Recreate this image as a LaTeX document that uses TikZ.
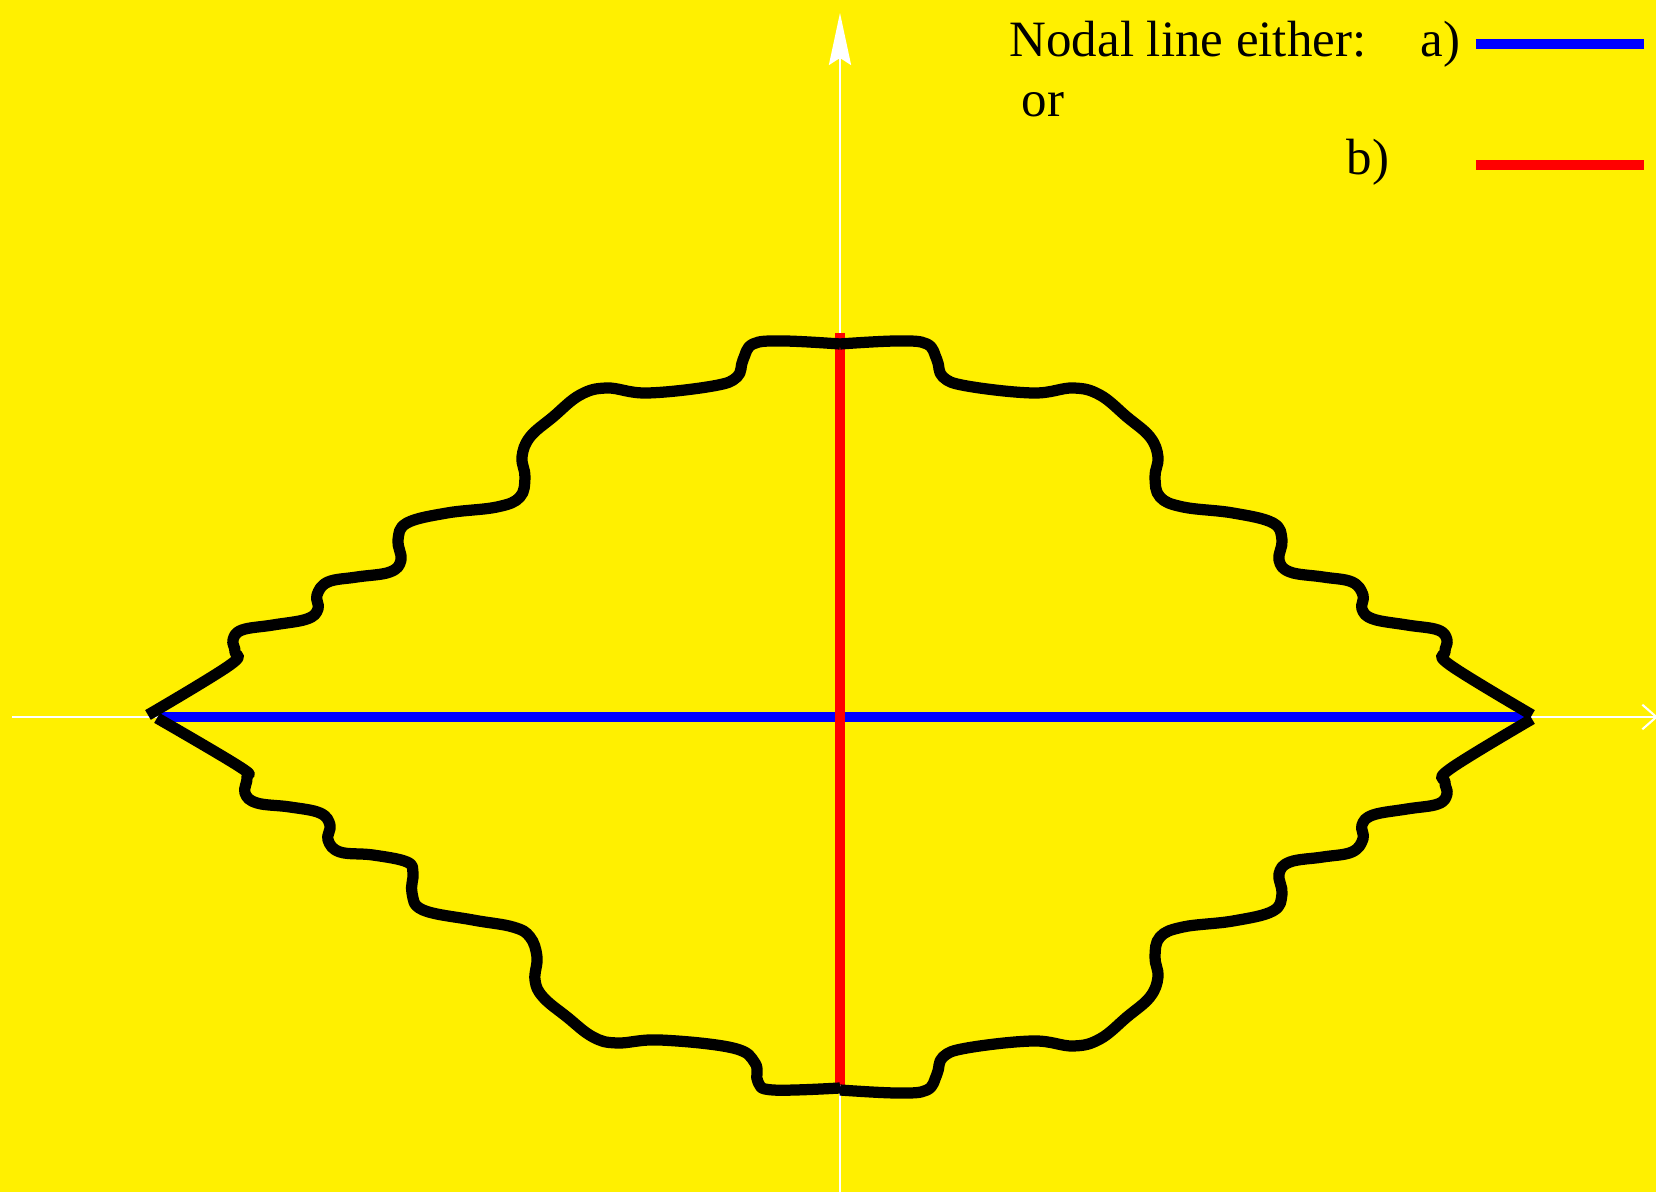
\documentclass[tikz,border=0pt]{standalone}
\usepackage{fontspec}
\setmainfont{Liberation Serif}
\usetikzlibrary{arrows.meta}
\definecolor{bgyellow}{RGB}{255,240,0}
\definecolor{nodalblue}{RGB}{0,0,255}
\definecolor{nodalred}{RGB}{255,0,0}

\begin{document}
\begin{tikzpicture}[
  curve/.style={black,line width=3.2pt,line join=round},
  axis/.style={white,line width=0.6pt},
  nodal/.style={line width=2.65pt},
  legendtext/.style={inner sep=0pt,anchor=base west,font=\fontsize{14.5}{17}\selectfont}]
  \fill[bgyellow] (-8.40,-4.75) rectangle (8.16,7.17);
  \useasboundingbox (-8.40,-4.75) rectangle (8.16,7.17);
  % axes
  \draw[axis,-{Straight Barb[length=4pt,width=7pt]}] (-8.28,0) -- (8.18,0);
  \draw[axis,-{Stealth[length=14.8pt,width=6.3pt,inset=2pt]}] (0,-4.75) -- (0,7.04);
  % legend
  \node[legendtext] (either) at (1.69,6.60) {Nodal line either:};
  \node[legendtext] (opta) at (5.80,6.60) {a)};
  \node[legendtext] (or) at (1.81,6.00) {or};
  \node[legendtext] (optb) at (5.06,5.42) {b)};
  \draw[nodalblue,line width=3.1pt] (6.36,6.73) -- (8.04,6.73);
  \draw[nodalred,line width=3.1pt] (6.36,5.52) -- (8.04,5.52);
  % the two nodal lines
  \draw[nodalblue,nodal] (-6.80,0) -- (6.87,0);
  \draw[nodalred,nodal] (0,3.84) -- (0,-3.68);
  % wavy boundary, one quarter at a time
  \foreach \sx/\sy in {1/1,-1/1,-1/-1}
    \draw[curve,xscale=\sx,yscale=\sy] plot[smooth,tension=0.65] coordinates {
      (-6.92,0.02) (-6.10,0.52) (-6.05,0.65) (-6.07,0.77) (-5.98,0.87)
      (-5.67,0.92) (-5.33,0.98) (-5.22,1.08) (-5.23,1.22) (-5.12,1.35)
      (-4.83,1.40) (-4.50,1.45) (-4.39,1.57) (-4.42,1.77) (-4.33,1.94)
      (-3.93,2.04) (-3.43,2.10) (-3.20,2.20) (-3.15,2.40) (-3.18,2.60)
      (-3.10,2.80) (-2.87,3.00) (-2.60,3.22) (-2.33,3.29) (-1.93,3.24)
      (-1.27,3.31) (-1.03,3.40) (-0.97,3.57) (-0.87,3.73) (-0.57,3.76)
      (0,3.73)};
  \draw[curve] plot[smooth,tension=0.65] coordinates {
    (-6.83,-0.01) (-6.00,-0.50) (-5.93,-0.60) (-5.95,-0.76) (-5.83,-0.86)
    (-5.50,-0.90) (-5.20,-0.96) (-5.10,-1.08) (-5.12,-1.23) (-5.00,-1.35)
    (-4.67,-1.38) (-4.33,-1.45) (-4.27,-1.56) (-4.28,-1.76) (-4.17,-1.93)
    (-3.67,-2.03) (-3.27,-2.10) (-3.10,-2.20) (-3.03,-2.40) (-3.05,-2.63)
    (-2.97,-2.80) (-2.73,-3.00) (-2.47,-3.20) (-2.23,-3.26) (-1.80,-3.23)
    (-1.07,-3.31) (-0.85,-3.46) (-0.82,-3.65) (-0.67,-3.73) (0,-3.71)};
\end{tikzpicture}
\end{document}
